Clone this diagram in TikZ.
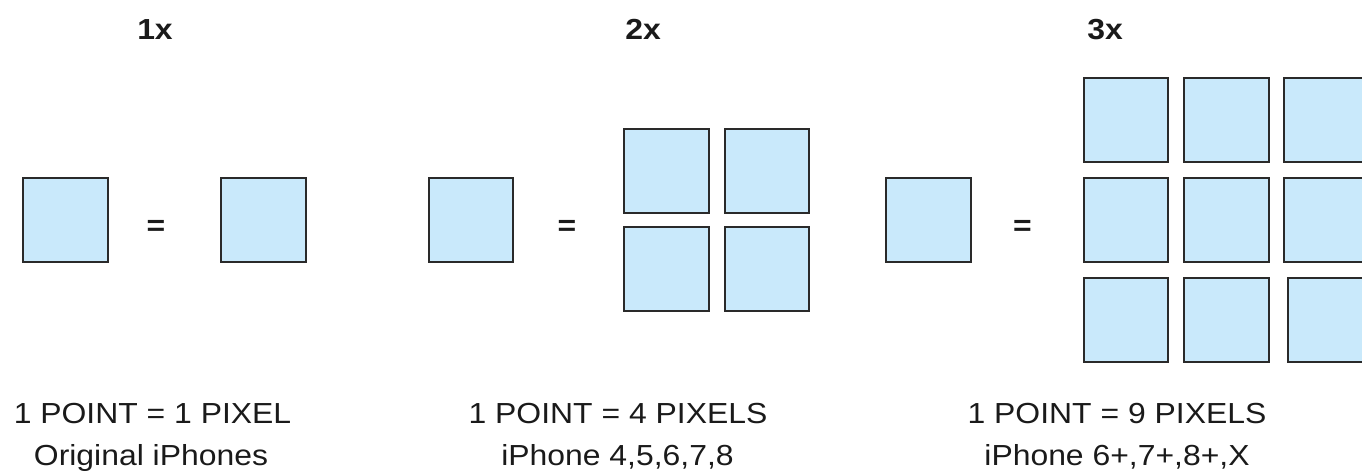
\documentclass[tikz,border=0pt]{standalone}
\usepackage{fontspec}
\setmainfont[FakeStretch=1.1]{Liberation Sans}
\definecolor{pixfill}{HTML}{C9E9FB}
\definecolor{pixline}{HTML}{2A2A2A}
\definecolor{txt}{HTML}{1A1A1A}
\begin{document}
\begin{tikzpicture}[x=1pt,y=-1pt,
  px/.style={draw=pixline,fill=pixfill,line width=2.4pt,minimum size=84.5pt,inner sep=0pt,rectangle},
  title/.style={font=\fontsize{29}{30}\selectfont\bfseries,text=txt,anchor=base,inner sep=0pt},
  eq/.style={font=\fontsize{29}{30}\selectfont\bfseries,text=txt,anchor=base,inner sep=0pt},
  lbl/.style={font=\fontsize{29}{30}\selectfont,text=txt,anchor=base,inner sep=0pt}]
\useasboundingbox (0,0) rectangle (1362,471);
\clip (0,0) rectangle (1362,471);
% titles
\node[title] (t1) at (155,39) {1x};
\node[title] (t2) at (643,39) {2x};
\node[title] (t3) at (1105,39) {3x};
% 1x
\node[px] (a1) at (65.5,220) {};
\node[eq] (e1) at (156,235) {=};
\node[px] (a2) at (263.5,220) {};
% 2x
\node[px] (b0) at (471,220) {};
\node[eq] (e2) at (567,235) {=};
\node[px] (b1) at (666.5,171) {};
\node[px] (b2) at (767,171) {};
\node[px] (b3) at (666.5,269) {};
\node[px] (b4) at (767,269) {};
% 3x
\node[px] (c0) at (928.5,220) {};
\node[eq] (e3) at (1022.5,235) {=};
\node[px] (c1) at (1126,120) {};
\node[px] (c2) at (1226.5,120) {};
\node[px] (c3) at (1326.5,120) {};
\node[px] (c4) at (1126,220) {};
\node[px] (c5) at (1226.5,220) {};
\node[px] (c6) at (1326.5,220) {};
\node[px] (c7) at (1126,320) {};
\node[px] (c8) at (1226.5,320) {};
\node[px] (c9) at (1330,320) {};
% labels
\node[lbl] (l1a) at (152.5,423) {1 POINT = 1 PIXEL};
\node[lbl] (l1b) at (151,465) {Original iPhones};
\node[lbl] (l2a) at (618,423) {1 POINT = 4 PIXELS};
\node[lbl] (l2b) at (617.5,465) {iPhone 4,5,6,7,8};
\node[lbl] (l3a) at (1117,423) {1 POINT = 9 PIXELS};
\node[lbl] (l3b) at (1117,465) {iPhone 6+,7+,8+,X};
\end{tikzpicture}
\end{document}
